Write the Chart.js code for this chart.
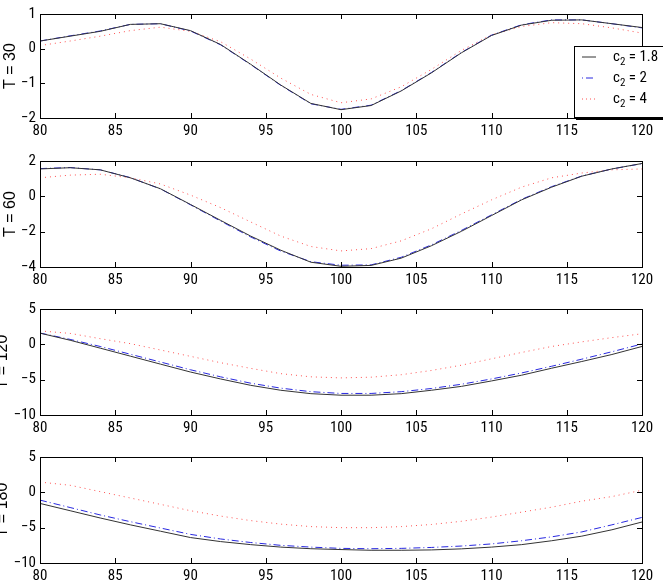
<!DOCTYPE html>
<html>
<head>
<meta charset="utf-8">
<script src="https://cdn.jsdelivr.net/npm/chart.js"></script>
<style>
  body { margin: 0; background: #fff; width: 663px; height: 588px; overflow: hidden; position: relative; }
  .panel { position: absolute; }
  #legend {
    position: absolute; left: 574px; top: 46px; width: 100px; height: 70px;
    background: #fff; border: 1px solid #000; box-shadow: 2px 2px 0 #000;
    font-family: "Roboto Condensed", "DejaVu Sans Condensed", sans-serif; font-size: 15px; color: #000;
  }
  .row { position: absolute; left: 7px; height: 20px; line-height: 16px; white-space: nowrap; }
  .row svg { vertical-align: middle; margin-right: 17px; }
  .row sub { font-size: 11px; }
</style>
</head>
<body>
<div class="panel" id="p1"><canvas id="c1"></canvas></div>
<div class="panel" id="p2"><canvas id="c2"></canvas></div>
<div class="panel" id="p3"><canvas id="c3"></canvas></div>
<div class="panel" id="p4"><canvas id="c4"></canvas></div>
<div id="legend">
  <div class="row" style="top:1px"><svg width="14" height="4"><line x1="0" y1="2" x2="14" y2="2" stroke="#333" stroke-width="1"/></svg>c<sub>2</sub> = 1.8</div>
  <div class="row" style="top:22px"><svg width="14" height="4"><line x1="0" y1="2" x2="14" y2="2" stroke="#2828e0" stroke-width="1" stroke-dasharray="1 3 7 3"/></svg>c<sub>2</sub> = 2</div>
  <div class="row" style="top:43px"><svg width="14" height="4"><line x1="0" y1="2" x2="14" y2="2" stroke="#ff5050" stroke-width="1" stroke-dasharray="1 3"/></svg>c<sub>2</sub> = 4</div>
</div>
<script>
var xValues = [80, 82, 84, 86, 88, 90, 92, 94, 96, 98, 100, 102, 104, 106, 108, 110, 112, 114, 116, 118, 120];
var xTicks = [80, 85, 90, 95, 100, 105, 110, 115, 120];
var seriesNames = ["c2 = 1.8", "c2 = 2", "c2 = 4"];

// T = 30
var t30_c18 = [0.22, 0.36, 0.5, 0.7, 0.72, 0.52, 0.12, -0.45, -1.05, -1.58, -1.76, -1.64, -1.22, -0.7, -0.12, 0.38, 0.68, 0.82, 0.83, 0.72, 0.61];
var t30_c2  = [0.22, 0.37, 0.51, 0.7, 0.72, 0.51, 0.11, -0.46, -1.06, -1.59, -1.75, -1.63, -1.21, -0.69, -0.11, 0.39, 0.69, 0.83, 0.83, 0.72, 0.6];
var t30_c4  = [0.09, 0.22, 0.36, 0.52, 0.62, 0.5, 0.2, -0.3, -0.85, -1.32, -1.56, -1.45, -1.1, -0.6, -0.05, 0.4, 0.64, 0.75, 0.72, 0.6, 0.45];
// T = 60
var t60_c18 = [1.55, 1.62, 1.5, 1.05, 0.43, -0.46, -1.36, -2.25, -3.05, -3.73, -3.96, -3.91, -3.5, -2.8, -1.98, -1.09, -0.2, 0.52, 1.14, 1.55, 1.86];
var t60_c2  = [1.57, 1.63, 1.5, 1.06, 0.42, -0.48, -1.4, -2.3, -3.1, -3.7, -3.9, -3.88, -3.45, -2.75, -1.93, -1.05, -0.17, 0.55, 1.15, 1.55, 1.85];
var t60_c4  = [1.05, 1.2, 1.25, 1.05, 0.7, 0.07, -0.64, -1.45, -2.25, -2.84, -3.09, -2.96, -2.52, -1.84, -1.0, -0.2, 0.52, 1.05, 1.32, 1.5, 1.55];
// T = 120
var t120_c18 = [1.58, 0.58, -0.54, -1.67, -2.8, -3.92, -4.9, -5.8, -6.5, -6.98, -7.2, -7.2, -6.98, -6.5, -5.95, -5.18, -4.37, -3.38, -2.43, -1.44, -0.3];
var t120_c2  = [1.6, 0.7, -0.3, -1.4, -2.5, -3.6, -4.6, -5.5, -6.2, -6.7, -6.95, -6.95, -6.7, -6.25, -5.65, -4.9, -4.05, -3.1, -2.1, -1.05, 0.05];
var t120_c4  = [1.9, 1.55, 0.8, 0.1, -0.8, -1.7, -2.6, -3.4, -4.15, -4.6, -4.75, -4.65, -4.3, -3.7, -2.95, -2.05, -1.15, -0.3, 0.35, 0.95, 1.5];
// T = 180
var t180_c18 = [-1.57, -2.6, -3.63, -4.6, -5.5, -6.4, -6.97, -7.4, -7.75, -7.98, -8.1, -8.2, -8.2, -8.15, -8.0, -7.75, -7.4, -6.85, -6.2, -5.3, -4.2];
var t180_c2  = [-1.1, -2.15, -3.2, -4.15, -5.05, -5.95, -6.6, -7.1, -7.5, -7.75, -7.93, -7.98, -7.93, -7.8, -7.6, -7.3, -6.85, -6.3, -5.6, -4.6, -3.55];
var t180_c4  = [1.45, 1.0, 0.1, -0.8, -1.7, -2.6, -3.36, -4.0, -4.5, -4.85, -5.0, -5.0, -4.85, -4.55, -4.1, -3.5, -2.8, -2.1, -1.25, -0.6, 0.3];

var fontFam = '"Roboto Condensed", "DejaVu Sans Condensed", sans-serif';
var titleFam = '"Liberation Sans", Arial, sans-serif';

// ticks pointing inward on all four sides, plus the box
var boxTicks = {
  id: 'boxTicks',
  afterDraw: function (chart) {
    var ctx = chart.ctx, a = chart.chartArea;
    var xs = chart.scales.x, ys = chart.scales.y;
    ctx.save();
    ctx.strokeStyle = '#000';
    ctx.lineWidth = 1;
    ctx.beginPath();
    xs.ticks.forEach(function (t) {
      var px = Math.round(xs.getPixelForValue(t.value)) + 0.5;
      ctx.moveTo(px, a.bottom); ctx.lineTo(px, a.bottom - 5);
      ctx.moveTo(px, a.top); ctx.lineTo(px, a.top + 5);
    });
    ys.ticks.forEach(function (t) {
      var py = Math.round(ys.getPixelForValue(t.value)) + 0.5;
      ctx.moveTo(a.left, py); ctx.lineTo(a.left + 5, py);
      ctx.moveTo(a.right, py); ctx.lineTo(a.right - 5, py);
    });
    ctx.stroke();
    ctx.strokeRect(Math.round(a.left) + 0.5, Math.round(a.top) + 0.5, Math.round(a.right - a.left), Math.round(a.bottom - a.top));
    ctx.restore();
  }
};

function makePanel(id, divId, title, s1, s2, s3, yMin, yMax, yStep, top, bottom, shift) {
  var padTop = 9, xH = 26;
  var div = document.getElementById(divId);
  var w = 663 + shift, h = (bottom - top) + padTop + xH;
  div.style.left = (-shift) + 'px';
  div.style.top = (top - padTop) + 'px';
  div.style.width = w + 'px';
  div.style.height = h + 'px';
  function pts(arr) { return arr.map(function (v, i) { return { x: xValues[i], y: v }; }); }
  new Chart(document.getElementById(id), {
    type: 'line',
    data: {
      datasets: [
        { label: seriesNames[0], data: pts(s1), borderColor: '#333', borderWidth: 1, pointRadius: 0, tension: 0 },
        { label: seriesNames[1], data: pts(s2), borderColor: '#2828e0', borderWidth: 1, borderDash: [7, 3, 1, 3], pointRadius: 0, tension: 0 },
        { label: seriesNames[2], data: pts(s3), borderColor: '#ff5050', borderWidth: 1, borderDash: [1, 4], pointRadius: 0, tension: 0 }
      ]
    },
    options: {
      responsive: true,
      maintainAspectRatio: false,
      animation: false,
      events: [],
      layout: { padding: { top: padTop, right: 21, left: 0, bottom: 0 } },
      plugins: { legend: { display: false }, tooltip: { enabled: false } },
      scales: {
        x: {
          type: 'linear', min: 80, max: 120,
          afterBuildTicks: function (s) { s.ticks = xTicks.map(function (v) { return { value: v }; }); },
          afterFit: function (s) { s.height = xH; },
          grid: { display: false, drawTicks: false },
          border: { display: false },
          ticks: { color: '#000', padding: 4, maxRotation: 0, font: { family: fontFam, size: 15 } }
        },
        y: {
          min: yMin, max: yMax,
          afterFit: function (s) { s.width = 40 + shift; },
          grid: { display: false, drawTicks: false },
          border: { display: false },
          ticks: {
            stepSize: yStep, color: '#000', padding: 4, font: { family: fontFam, size: 15 },
            callback: function (v) { return String(v).replace('-', '\u2212'); }
          },
          title: { display: true, text: title, color: '#000', padding: { top: 1, bottom: 0 }, font: { family: titleFam, size: 16 } }
        }
      }
    },
    plugins: [boxTicks]
  });
}

makePanel('c1', 'p1', 'T = 30', t30_c18, t30_c2, t30_c4, -2, 1, 1, 10, 118, 0);
makePanel('c2', 'p2', 'T = 60', t60_c18, t60_c2, t60_c4, -4, 2, 2, 157, 267, 0);
makePanel('c3', 'p3', 'T = 120', t120_c18, t120_c2, t120_c4, -10, 5, 5, 305, 415, 8);
makePanel('c4', 'p4', 'T = 180', t180_c18, t180_c2, t180_c4, -10, 5, 5, 453, 563, 8);
</script>
</body>
</html>
